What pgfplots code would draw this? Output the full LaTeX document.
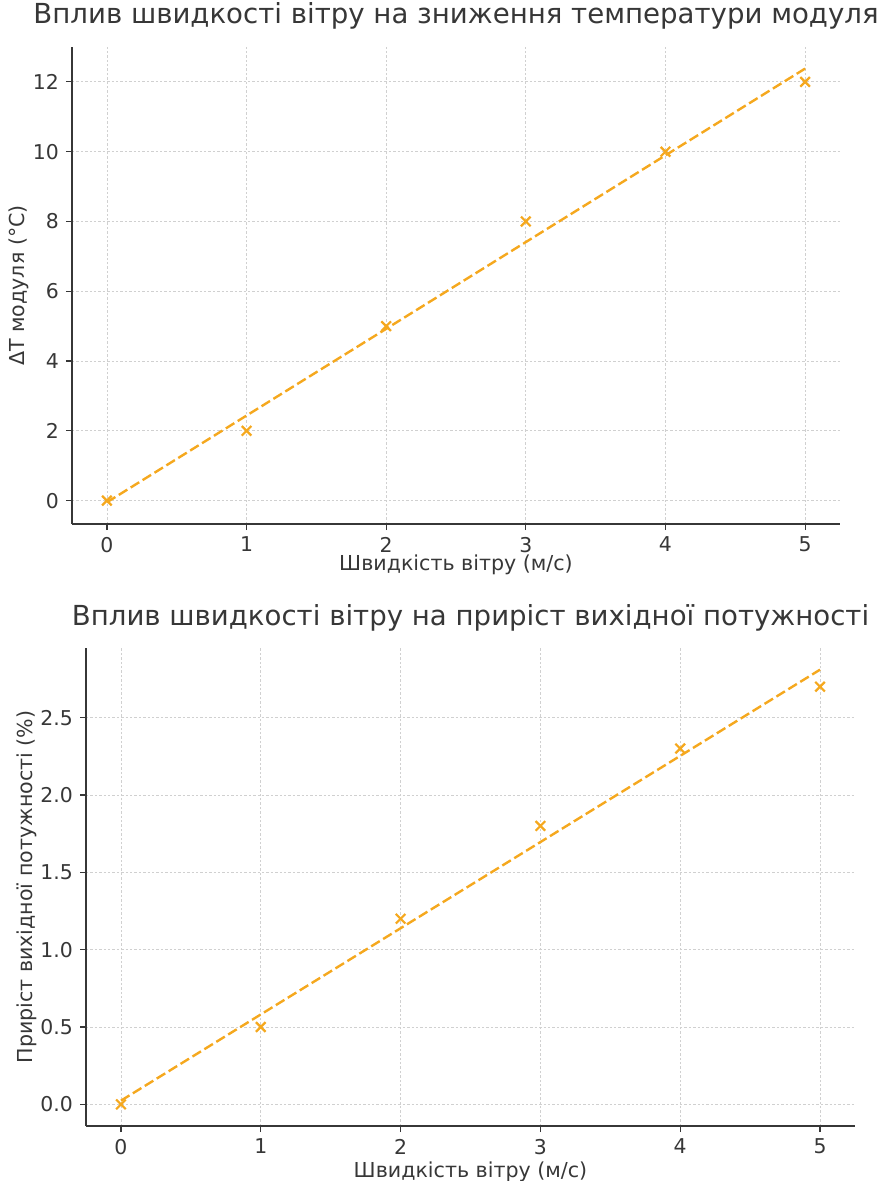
\documentclass[border=0pt]{standalone}
\usepackage{fontspec}
\setmainfont{DejaVu Sans}
\usepackage{pgfplots}
\pgfplotsset{compat=1.18}
\definecolor{orng}{RGB}{245,168,30}
\definecolor{spine}{RGB}{55,55,55}
\definecolor{gridc}{RGB}{208,208,208}
\pgfplotsset{
 mystyle/.style={
  scale only axis, axis x line*=bottom, axis y line*=left,
  axis line style={spine, line width=0.9pt, -},
  tick style={spine, line width=0.6pt},
  major tick length=3pt, tick align=outside,
  grid=major, grid style={gridc, dash pattern=on 1.2pt off 1pt, line width=0.4pt},
  tick label style={font=\fontsize{10.2}{12}\selectfont, text=spine},
  label style={font=\fontsize{10.3}{12}\selectfont, text=spine},
  title style={font=\fontsize{13.8}{16}\selectfont, text=spine, at={(0.5,1)}, anchor=base, yshift=5.5pt},
  /pgf/number format/assume math mode=true,
  xmin=-0.25, xmax=5.25, xtick={0,...,5},
  xlabel={Швидкість вітру (м/с)},
  ylabel style={yshift=-5pt},
 },
 pts/.style={only marks, mark=x, mark size=3.4pt, mark options={orng, line width=1.1pt}},
 trend/.style={orng, line width=1.2pt, dash pattern=on 5pt off 2pt, no marks},
}
\begin{document}
\begin{tikzpicture}
\useasboundingbox (0,0) rectangle (440.5pt,-590.5pt);
\begin{axis}[mystyle,
  at={(36pt,-262pt)}, anchor=south west, width=384pt, height=238.5pt,
  ymin=-0.67, ymax=13.0, ytick={0,2,...,12},
  title={Вплив швидкості вітру на зниження температури модуля},
  ylabel={ΔT модуля (°C)},
  xlabel style={yshift=5.5pt},
]
\addplot[trend] coordinates {(0,-0.048) (5,12.381)};
\addplot[pts] coordinates {(0,0) (1,2) (2,5) (3,8) (4,10) (5,12)};
\end{axis}
\begin{axis}[mystyle,
  at={(43pt,-563pt)}, anchor=south west, width=384.5pt, height=239pt,
  ymin=-0.14, ymax=2.95, ytick={0,0.5,...,2.5},
  yticklabel style={/pgf/number format/.cd, fixed, fixed zerofill, precision=1},
  title={Вплив швидкості вітру на приріст вихідної потужності},
  ylabel={Приріст вихідної потужності (\%)},
  xlabel style={yshift=3pt},
]
\addplot[trend] coordinates {(0,0.024) (5,2.81)};
\addplot[pts] coordinates {(0,0) (1,0.5) (2,1.2) (3,1.8) (4,2.3) (5,2.7)};
\end{axis}
\end{tikzpicture}
\end{document}
